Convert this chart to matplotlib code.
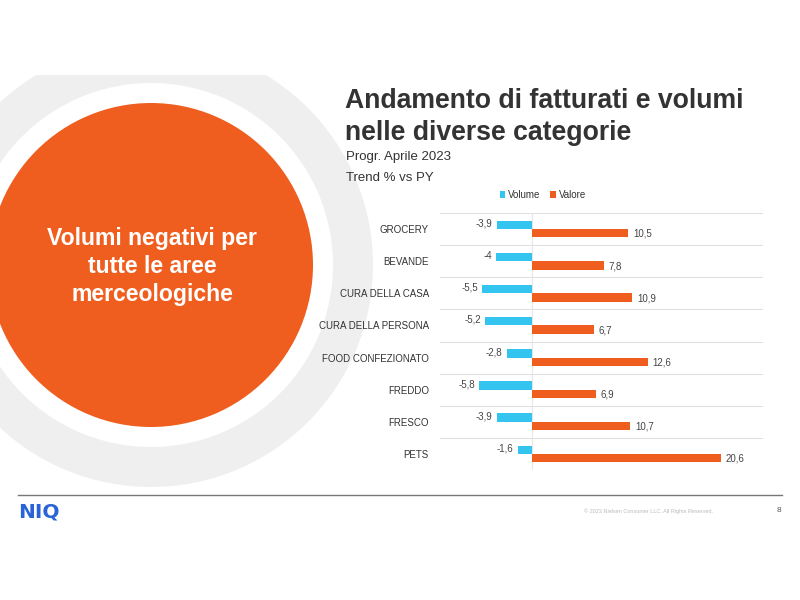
import matplotlib
matplotlib.use("Agg")
import matplotlib.pyplot as plt
from matplotlib.patches import Circle, Wedge, Rectangle
import numpy as np

plt.rcParams['font.family'] = ['Liberation Sans', 'DejaVu Sans']

categories = ["GROCERY", "BEVANDE", "CURA DELLA CASA", "CURA DELLA PERSONA",
              "FOOD CONFEZIONATO", "FREDDO", "FRESCO", "PETS"]
volume = [-3.9, -4.0, -5.5, -5.2, -2.8, -5.8, -3.9, -1.6]
valore = [10.5, 7.8, 10.9, 6.7, 12.6, 6.9, 10.7, 20.6]
volume_labels = ["-3,9", "-4", "-5,5", "-5,2", "-2,8", "-5,8", "-3,9", "-1,6"]
valore_labels = ["10,5", "7,8", "10,9", "6,7", "12,6", "6,9", "10,7", "20,6"]

CYAN = "#33c5f0"
ORANGE = "#ef5e1e"
GRAY = "#efefef"
DARK = "#333333"

fig = plt.figure(figsize=(8, 6), dpi=100)
bg = fig.add_axes([0, 0, 1, 1])
bg.set_xlim(0, 800)
bg.set_ylim(600, 0)
bg.axis("off")

clip = Rectangle((0, 75), 800, 450, transform=bg.transData, visible=False)
bg.add_patch(clip)
ring = Wedge((151, 265), 222, 0, 360, width=40, facecolor=GRAY, edgecolor="none")
bg.add_patch(ring)
ring.set_clip_path(clip)
circ = Circle((151, 265), 162, facecolor=ORANGE, edgecolor="none")
bg.add_patch(circ)

for txt, yb in zip(["Volumi negativi per", "tutte le aree", "merceologiche"], [245, 273, 301]):
    bg.text(152, yb, txt, color="white", fontsize=16.6, fontweight="bold",
            ha="center", va="baseline")

bg.text(345, 108, "Andamento di fatturati e volumi", color=DARK, fontsize=19.2,
        fontweight="bold", ha="left", va="baseline")
bg.text(345, 140, "nelle diverse categorie", color=DARK, fontsize=19.2,
        fontweight="bold", ha="left", va="baseline")
bg.text(346, 157, "Progr. Aprile 2023", color=DARK, fontsize=9.5, ha="left", va="center")
bg.text(346, 178, "Trend % vs PY", color=DARK, fontsize=9.5, ha="left", va="center")

# footer
bg.plot([18, 782], [495, 495], color="#777777", lw=1)
bg.text(18, 518, "NIQ", color="#2a62d8", fontsize=14.5, fontweight="bold", ha="left",
        va="baseline", family="DejaVu Sans")
bg.text(648, 511, "© 2023 Nielsen Consumer LLC. All Rights Reserved.", color="#bbbbbb",
        fontsize=4, ha="center", va="center")
bg.text(779, 511, "8", color="#555555", fontsize=6, ha="center", va="center")

# chart
ax = fig.add_axes([440/800, 1-470/600, 323/800, 257/600])
y = np.arange(len(categories))
h = 0.26
ax.barh(y - h/2, volume, height=h, color=CYAN, label="Volume")
ax.barh(y + h/2, valore, height=h, color=ORANGE, label="Valore")
ax.set_ylim(len(categories) - 0.5, -0.5)
ax.set_xlim(-10.1, 25.2)
for i in range(len(categories) + 1):
    ax.axhline(i - 0.5, color="#e0e0e0", lw=0.8, zorder=0)
ax.axvline(0, color="#e6e6e6", lw=0.8, zorder=0)
for s in ax.spines.values():
    s.set_visible(False)
ax.set_xticks([])
ax.set_yticks(y)
ax.set_yticklabels(categories, fontsize=7, color=DARK)
ax.tick_params(axis="y", length=0, pad=8)
for i in range(len(categories)):
    ax.text(volume[i] - 0.45, y[i] - h/2 - 0.04, volume_labels[i], fontsize=7, color="#444444",
            ha="right", va="center")
    ax.text(valore[i] + 0.55, y[i] + h/2 + 0.02, valore_labels[i], fontsize=7, color="#444444",
            ha="left", va="center")

fig.legend(handles=ax.get_legend_handles_labels()[0], labels=["Volume", "Valore"],
           loc="center", bbox_to_anchor=(543/800, 1-195/600), ncol=2, frameon=False,
           fontsize=7, handlelength=0.6, handleheight=0.6, handletextpad=0.3,
           columnspacing=1.0, labelcolor=DARK)

fig.savefig("out.png", dpi=100, facecolor="white")
